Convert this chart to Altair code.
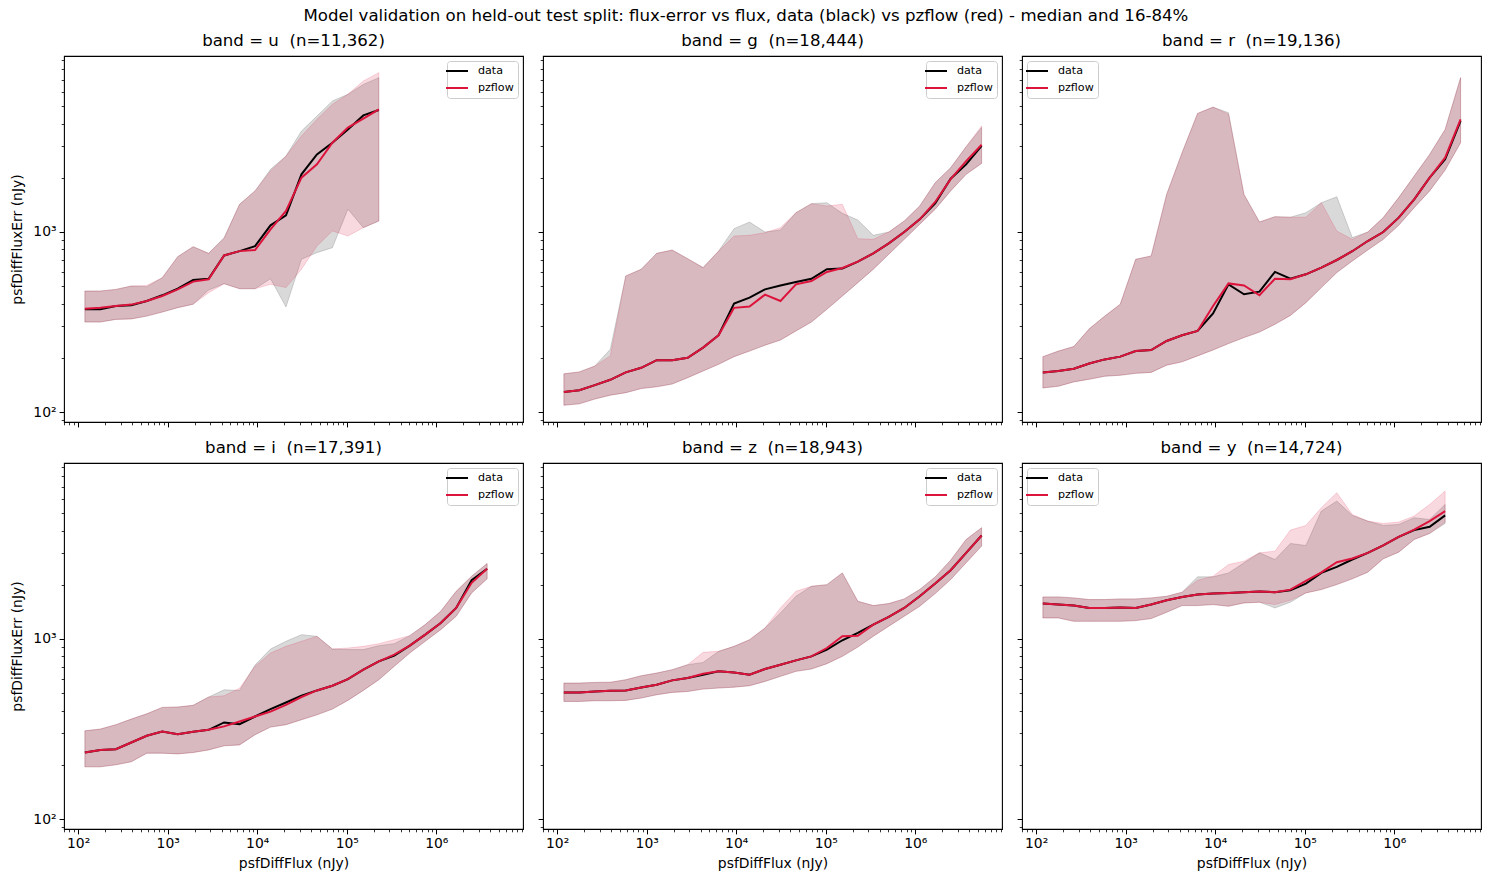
import altair as alt
import pandas as pd

# Flux bin centres (nJy), shared by every band
FLUX_BINS = [118.9, 176.9, 263.4, 392.1, 583.8, 869.0, 1293.6, 1925.7, 2866.8,
             4267.6, 6353.0, 9458.0, 14079.0, 20959.0, 31201.0, 46452.0,
             69150.0, 102943.0, 153247.0, 228130.0, 339625.0, 505590.0,
             752670.0, 1120500.0, 1668000.0, 2483000.0, 3697000.0, 5503000.0]

BANDS = ["u", "g", "r", "i", "z", "y"]
COUNTS = ["11,362", "18,444", "19,136", "17,391", "18,943", "14,724"]
LEGEND_SIDE = ["top-right", "top-right", "top-left", "top-right", "top-right", "top-left"]

# psfDiffFluxErr per flux bin: median, 16th and 84th percentile
DATA_MED = {
    "u": [372, 372, 388, 392, 414, 445, 484, 541, 550, 741, 783, 835, 1089, 1238, 2090, 2697, 3133, 3715, 4443, 4763],
    "g": [129, 132, 141, 151, 166, 176, 194, 194, 200, 228, 267, 400, 432, 480, 505, 527, 550, 621, 626, 684, 761, 865, 1000, 1176, 1443, 1977, 2375, 3008],
    "r": [166, 169, 174, 186, 196, 203, 218, 221, 248, 267, 282, 353, 512, 451, 466, 600, 550, 582, 634, 699, 782, 891, 1000, 1202, 1518, 2004, 2535, 4140],
    "i": [234, 242, 244, 266, 290, 306, 296, 305, 313, 344, 336, 371, 408, 444, 484, 518, 550, 599, 675, 751, 808, 918, 1057, 1227, 1489, 2123, 2456],
    "z": [505, 505, 511, 516, 518, 538, 557, 589, 607, 633, 661, 652, 633, 681, 720, 761, 801, 873, 984, 1080, 1202, 1326, 1488, 1727, 2032, 2410, 3012, 3759],
    "y": [1573, 1553, 1533, 1488, 1488, 1494, 1488, 1553, 1641, 1713, 1766, 1788, 1803, 1819, 1834, 1819, 1866, 2032, 2329, 2517, 2765, 3011, 3308, 3696, 4026, 4202, 4860],
}
DATA_LO = {
    "u": [316, 316, 327, 329, 341, 359, 380, 397, 476, 516, 484, 484, 550, 383, 705, 768, 818, 1337, 1057, 1151],
    "g": [109, 111, 118, 124, 128, 135, 138, 143, 155, 169, 184, 203, 218, 235, 251, 282, 316, 372, 441, 523, 621, 752, 910, 1103, 1337, 1692, 2090, 2404],
    "r": [136, 139, 147, 152, 158, 160, 164, 166, 182, 190, 205, 221, 240, 259, 278, 307, 344, 405, 491, 595, 690, 794, 910, 1089, 1365, 1692, 2208, 3133],
    "i": [195, 195, 200, 208, 232, 232, 230, 234, 242, 255, 258, 294, 324, 334, 356, 379, 408, 456, 518, 594, 705, 836, 971, 1127, 1337, 1803, 2159],
    "z": [450, 450, 454, 454, 456, 470, 490, 505, 511, 527, 534, 540, 550, 581, 620, 661, 681, 729, 801, 902, 1035, 1178, 1337, 1520, 1787, 2138, 2651, 3283],
    "y": [1309, 1309, 1254, 1254, 1254, 1254, 1265, 1298, 1407, 1533, 1533, 1553, 1520, 1586, 1600, 1488, 1600, 1803, 1882, 2006, 2158, 2350, 2788, 3037, 3572, 3858, 4385],
}
DATA_HI = {
    "u": [470, 470, 480, 501, 497, 557, 729, 829, 761, 931, 1425, 1692, 2230, 2641, 3640, 4406, 5346, 5821, 6607, 7200],
    "g": [163, 167, 180, 223, 570, 621, 761, 794, 711, 634, 783, 1044, 1136, 1000, 1026, 1280, 1437, 1455, 1270, 1166, 958, 1000, 1151, 1394, 1879, 2275, 2979, 3802],
    "r": [203, 218, 231, 290, 341, 397, 705, 736, 1618, 2760, 4560, 4940, 4600, 1618, 1136, 1217, 1209, 1280, 1455, 1570, 931, 1000, 1202, 1553, 2046, 2697, 3715, 7200],
    "i": [309, 316, 334, 359, 384, 417, 419, 428, 476, 522, 518, 717, 880, 971, 1057, 1035, 880, 873, 873, 918, 942, 1044, 1202, 1426, 1841, 2234, 2625],
    "z": [569, 569, 574, 575, 594, 625, 647, 675, 720, 741, 854, 910, 991, 1151, 1395, 1728, 1963, 2004, 2329, 1621, 1534, 1574, 1670, 1884, 2213, 2741, 3573, 4151],
    "y": [1713, 1713, 1692, 1656, 1656, 1670, 1670, 1692, 1728, 1819, 2214, 2214, 2329, 2649, 3011, 2765, 3394, 3308, 5135, 5837, 4860, 4517, 4274, 4329, 4716, 4615, 5593],
}
FLOW_MED = {
    "u": [375, 380, 388, 395, 414, 441, 480, 530, 546, 741, 783, 794, 1035, 1308, 2004, 2376, 3133, 3800, 4266, 4800],
    "g": [129, 132, 141, 151, 166, 176, 194, 194, 200, 228, 267, 379, 385, 449, 414, 512, 534, 600, 631, 684, 761, 865, 1000, 1176, 1468, 1966, 2477, 3055],
    "r": [166, 169, 174, 186, 196, 203, 218, 221, 248, 267, 282, 388, 518, 505, 445, 550, 546, 582, 634, 699, 782, 891, 1000, 1202, 1518, 2004, 2588, 4227],
    "i": [234, 242, 244, 266, 290, 306, 296, 305, 313, 327, 348, 371, 395, 431, 476, 518, 550, 599, 675, 751, 818, 918, 1057, 1227, 1489, 2051, 2456],
    "z": [505, 505, 511, 516, 518, 538, 557, 589, 607, 641, 661, 652, 633, 681, 720, 761, 801, 891, 1035, 1043, 1202, 1326, 1488, 1727, 2032, 2410, 3012, 3759],
    "y": [1573, 1553, 1533, 1488, 1488, 1494, 1488, 1553, 1641, 1713, 1766, 1788, 1803, 1819, 1834, 1819, 1880, 2100, 2345, 2670, 2800, 3011, 3308, 3696, 4050, 4520, 5130],
}
FLOW_LO = {
    "u": [316, 316, 327, 329, 341, 359, 380, 397, 460, 516, 484, 484, 512, 491, 621, 836, 1013, 950, 1057, 1151],
    "g": [109, 111, 118, 124, 128, 135, 138, 143, 155, 169, 184, 203, 218, 235, 251, 282, 316, 372, 441, 523, 621, 752, 910, 1103, 1337, 1692, 2090, 2404],
    "r": [136, 139, 147, 152, 158, 160, 164, 166, 182, 190, 205, 221, 240, 259, 278, 307, 344, 405, 491, 595, 690, 794, 910, 1089, 1365, 1692, 2208, 3133],
    "i": [195, 195, 200, 208, 232, 232, 230, 234, 242, 255, 258, 294, 324, 334, 356, 379, 408, 456, 518, 594, 705, 836, 971, 1127, 1337, 1803, 2159],
    "z": [450, 450, 454, 454, 456, 470, 490, 505, 511, 527, 534, 540, 550, 581, 620, 661, 681, 729, 801, 902, 1035, 1178, 1337, 1520, 1787, 2138, 2651, 3283],
    "y": [1309, 1309, 1254, 1254, 1254, 1254, 1265, 1298, 1407, 1533, 1533, 1553, 1520, 1586, 1600, 1553, 1641, 1803, 1882, 2006, 2158, 2350, 2788, 3037, 3572, 3858, 4460],
}
FLOW_HI = {
    "u": [470, 470, 480, 501, 505, 557, 729, 829, 761, 920, 1425, 1692, 2183, 2641, 3412, 4225, 5117, 5821, 6900, 7680],
    "g": [163, 167, 180, 205, 570, 621, 761, 794, 711, 634, 783, 950, 958, 992, 1057, 1280, 1437, 1394, 1425, 918, 910, 1000, 1151, 1394, 1879, 2275, 2979, 3882],
    "r": [203, 218, 231, 290, 341, 397, 705, 736, 1618, 2760, 4560, 4940, 4508, 1618, 1136, 1217, 1209, 1209, 1455, 1013, 910, 1000, 1202, 1553, 2046, 2697, 3715, 7200],
    "i": [309, 316, 334, 359, 384, 417, 419, 428, 476, 484, 533, 705, 836, 910, 971, 1035, 880, 891, 910, 942, 991, 1044, 1202, 1426, 1841, 2234, 2625],
    "z": [569, 569, 574, 575, 594, 625, 647, 675, 720, 843, 854, 910, 991, 1151, 1488, 1842, 1963, 2004, 2329, 1621, 1534, 1574, 1670, 1884, 2213, 2741, 3573, 4151],
    "y": [1713, 1713, 1692, 1656, 1656, 1670, 1670, 1692, 1728, 1819, 2121, 2233, 2592, 2706, 3011, 3076, 4026, 4274, 5359, 6495, 4920, 4517, 4385, 4460, 4819, 5593, 6636],
}

FONT = "DejaVu Sans"
X_DOMAIN = [69.5, 9.3e6]
Y_DOMAIN = [88, 9500]

X_MAJOR = [1e2, 1e3, 1e4, 1e5, 1e6]
X_MINOR = [k * 10 ** e for e in range(1, 7) for k in range(2, 10)
           if X_DOMAIN[0] <= k * 10 ** e <= X_DOMAIN[1]]
Y_MAJOR = [1e2, 1e3]
Y_MINOR = [k * 10 ** e for e in range(1, 4) for k in range(2, 10)
           if Y_DOMAIN[0] <= k * 10 ** e <= Y_DOMAIN[1]]

POW_LABEL = ("datum.value < 500 ? '10²' : datum.value < 5000 ? '10³' : "
             "datum.value < 50000 ? '10⁴' : datum.value < 500000 ? '10⁵' : '10⁶'")

X_SCALE = alt.Scale(type="log", domain=X_DOMAIN, nice=False)
Y_SCALE = alt.Scale(type="log", domain=Y_DOMAIN, nice=False)
COLOR_SCALE = alt.Scale(domain=["data", "pzflow"], range=["black", "crimson"])


def panel_frame(band):
    rows = []
    series = (("data", DATA_MED, DATA_LO, DATA_HI),
              ("pzflow", FLOW_MED, FLOW_LO, FLOW_HI))
    for src, med, lo, hi in series:
        for k in range(len(med[band])):
            rows.append({"flux": FLUX_BINS[k], "med": med[band][k],
                         "lo": lo[band][k], "hi": hi[band][k], "source": src})
    return pd.DataFrame(rows)


def major_axis(orient, show_labels, title):
    kw = dict(orient=orient, values=X_MAJOR if orient == "bottom" else Y_MAJOR,
              labels=show_labels, labelExpr=POW_LABEL, labelFont=FONT,
              labelFontSize=13.9, labelColor="black", labelPadding=3,
              labelFlush=False, labelOverlap=False,
              tickSize=4.9, tickWidth=1, tickColor="black",
              domain=False, grid=False, title=title,
              titleFont=FONT, titleFontSize=13.9, titleFontWeight="normal",
              titleColor="black", titlePadding=6 if orient == "bottom" else 8)
    return alt.Axis(**kw)


def minor_axis(orient):
    return alt.Axis(orient=orient, values=X_MINOR if orient == "bottom" else Y_MINOR,
                    labels=False, tickSize=2.8, tickWidth=0.8, tickColor="black",
                    domain=False, grid=False, title=None)


def panel(idx):
    band = BANDS[idx]
    row, col = divmod(idx, 3)
    df = panel_frame(band)
    base = alt.Chart(df)

    x_title = "psfDiffFlux (nJy)" if row == 1 else None
    y_title = "psfDiffFluxErr (nJy)" if col == 0 else None

    band_data = base.transform_filter(alt.datum.source == "data").mark_area(
        fill="black", fillOpacity=0.15, stroke="black", strokeOpacity=0.15, strokeWidth=1
    ).encode(
        x=alt.X("flux:Q", scale=X_SCALE, axis=major_axis("bottom", row == 1, x_title)),
        y=alt.Y("lo:Q", scale=Y_SCALE, axis=major_axis("left", col == 0, y_title)),
        y2="hi:Q",
    )
    band_flow = base.transform_filter(alt.datum.source == "pzflow").mark_area(
        fill="crimson", fillOpacity=0.16, stroke="crimson", strokeOpacity=0.16, strokeWidth=1
    ).encode(
        x=alt.X("flux:Q", scale=X_SCALE, axis=minor_axis("bottom")),
        y=alt.Y("lo:Q", scale=Y_SCALE, axis=minor_axis("left")),
        y2="hi:Q",
    )
    lines = base.mark_line(strokeWidth=2).encode(
        x=alt.X("flux:Q", scale=X_SCALE, axis=None),
        y=alt.Y("med:Q", scale=Y_SCALE, axis=None),
        color=alt.Color(
            "source:N", scale=COLOR_SCALE,
            legend=alt.Legend(
                title=None, orient=LEGEND_SIDE[idx], offset=5, padding=4,
                cornerRadius=3, strokeColor="#cccccc", fillColor="rgba(255,255,255,0.8)",
                labelFont=FONT, labelFontSize=11.1, labelColor="black",
                symbolType="M-2.2,0H2.2", symbolSize=100, symbolStrokeWidth=2,
                labelOffset=15, rowPadding=5,
            ),
        ),
        order=alt.Order("source:N"),
    )
    title = alt.TitleParams(
        text=f"band = {band} \u00a0(n={COUNTS[idx]})", font=FONT, fontSize=16.6,
        fontWeight="normal", color="black", offset=6, anchor="middle",
    )
    return (
        alt.layer(band_data, band_flow, lines)
        .resolve_axis(x="independent", y="independent")
        .properties(width=459, height=366, title=title)
    )


chart = (
    alt.concat(*[panel(i) for i in range(6)], columns=3,
               spacing={"row": 41, "column": 20}, bounds="flush")
    .resolve_scale(color="independent")
    .resolve_legend(color="independent")
    .properties(
        title=alt.TitleParams(
            text="Model validation on held-out test split: flux-error vs flux, data (black) vs pzflow (red) - median and 16-84%",
            font=FONT, fontSize=16.6, fontWeight="normal", color="black", anchor="middle", offset=8,
        ),
        padding={"left": 10, "top": 8, "right": 5, "bottom": 5},
    )
    .configure(font=FONT, background="white")
    .configure_view(stroke="black", strokeWidth=1.1)
)

chart.save("out.html", embed_options={"renderer": "svg", "actions": False})
